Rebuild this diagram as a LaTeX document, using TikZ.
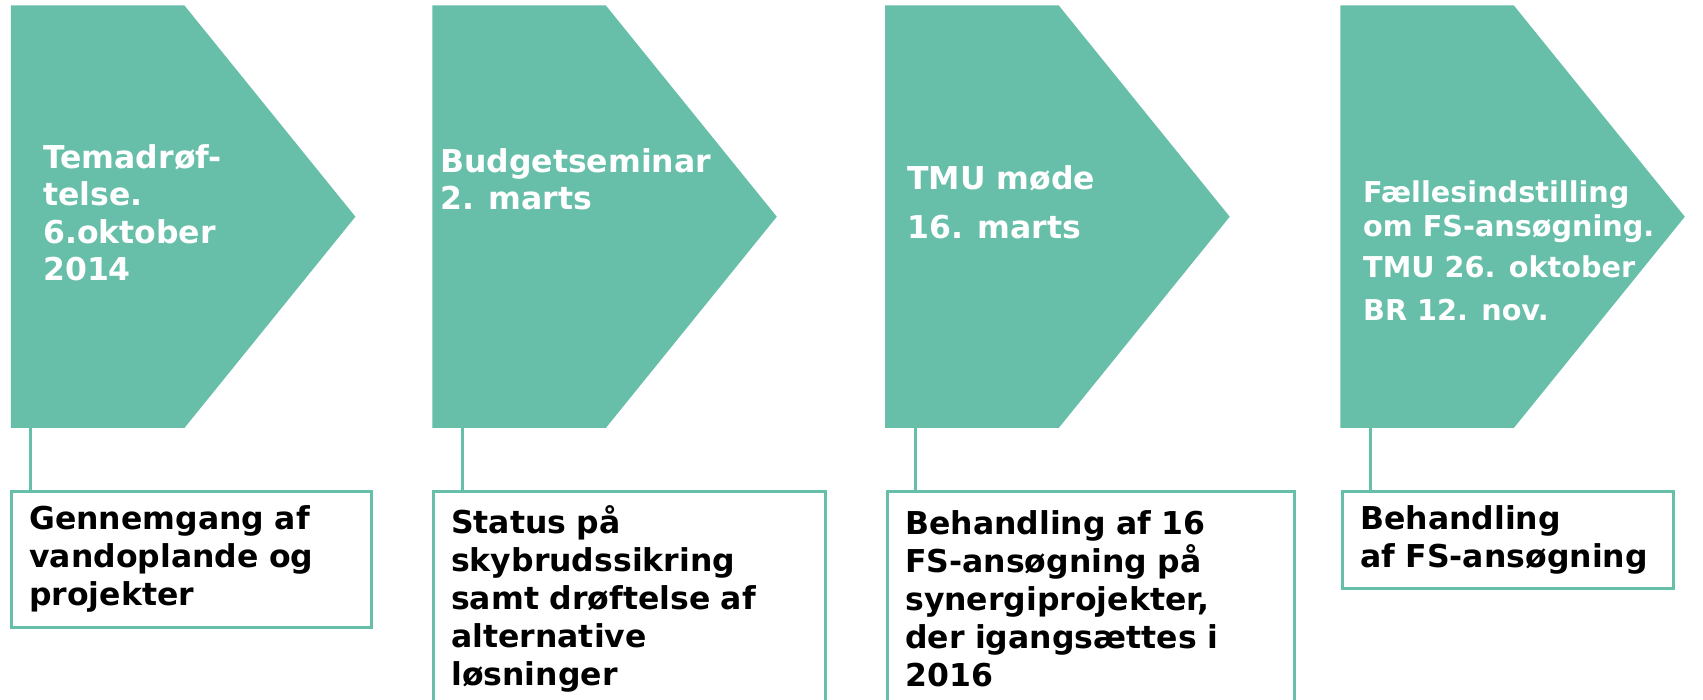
\documentclass[tikz,border=0pt]{standalone}
\usepackage{fontspec}
\setmainfont{DejaVu Sans}
\usetikzlibrary{positioning}
\definecolor{tmugreen}{RGB}{103,191,170}

\begin{document}
\begin{tikzpicture}[x=1pt, y=-1pt,
  evtext/.style={text=white, font=\bfseries\fontsize{31.5}{37.5}\selectfont,
    align=left, anchor=north west, inner sep=0pt},
  infobox/.style={draw=tmugreen, line width=2.5pt, fill=white, anchor=north west,
    align=left, font=\bfseries\fontsize{31.5}{38}\selectfont, inner xsep=18pt, inner ysep=0pt},
  link/.style={draw=tmugreen, line width=2.5pt}]

  \useasboundingbox (0,0) rectangle (1703,700);

  \newcommand\PT{5.4}   % top of the arrows
  \newcommand\PB{428}   % bottom of the arrows

  %% the four arrows
  \fill[tmugreen] (10.9,\PT) -- (184.4,\PT) -- (355.4,216.7) -- (184.4,\PB) -- (10.9,\PB) -- cycle;
  \fill[tmugreen] (432.3,\PT) -- (605.8,\PT) -- (776.8,216.7) -- (605.8,\PB) -- (432.3,\PB) -- cycle;
  \fill[tmugreen] (885.2,\PT) -- (1058.7,\PT) -- (1229.7,216.7) -- (1058.7,\PB) -- (885.2,\PB) -- cycle;
  \fill[tmugreen] (1340.3,\PT) -- (1513.8,\PT) -- (1684.8,216.7) -- (1513.8,\PB) -- (1340.3,\PB) -- cycle;

  \coordinate (foot1) at (30.4,\PB);
  \coordinate (foot2) at (462.7,\PB);
  \coordinate (foot3) at (915.6,\PB);
  \coordinate (foot4) at (1370.6,\PB);

  %% dates
  \node[evtext] (date1) at (43,144) {Temadrøf-\\telse.\\6.oktober\\2014};
  \node[evtext] (date2) at (440,148) {Budgetseminar\\2. marts};
  \node[evtext] (date3) at (907,165) {TMU møde\\[11.5pt]16. marts};
  \node[evtext, font=\bfseries\fontsize{28.7}{34.7}\selectfont] (date4) at (1363,180)
    {Fællesindstilling\\om FS-ansøgning.\\[6pt]TMU 26. oktober\\[8pt]BR 12. nov.};

  %% what happens
  \node[infobox, text width=324pt, minimum height=136pt] (box1) at (10,490)
    {Gennemgang af\\vandoplande og\\projekter};
  \node[infobox, text width=356pt, minimum height=215pt] (box2) at (432,490)
    {Status på\\skybrudssikring\\samt drøftelse af\\alternative\\løsninger};
  \node[infobox, text width=371pt, minimum height=215pt] (box3) at (886,490)
    {Behandling af 16\\FS-ansøgning på\\synergiprojekter,\\der igangsættes i\\2016};
  \node[infobox, text width=295pt, minimum height=97pt] (box4) at (1341,490)
    {Behandling\\af FS-ansøgning};

  \draw[link] (foot1) -- (foot1 |- box1.north);
  \draw[link] (foot2) -- (foot2 |- box2.north);
  \draw[link] (foot3) -- (foot3 |- box3.north);
  \draw[link] (foot4) -- (foot4 |- box4.north);
\end{tikzpicture}
\end{document}
